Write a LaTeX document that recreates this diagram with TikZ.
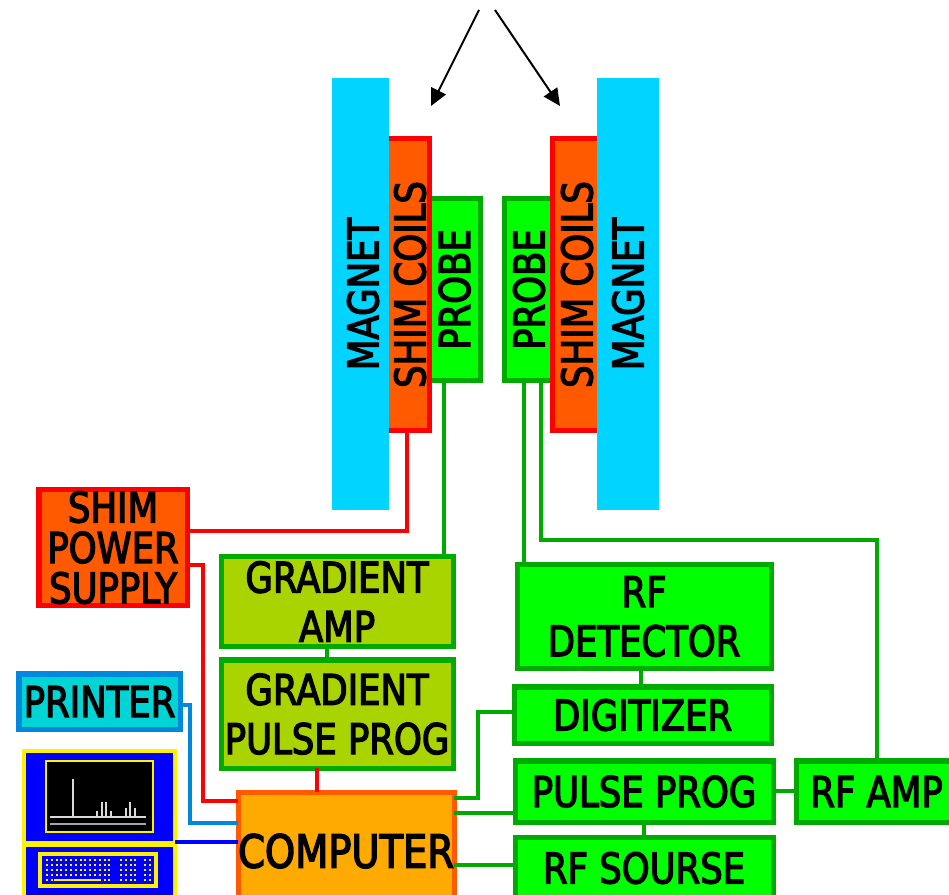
\documentclass[tikz,border=0pt]{standalone}
\usepackage{fontspec}
\usetikzlibrary{arrows.meta}
\newfontfamily\boxfont[FakeStretch=0.84,FakeBold=3]{DejaVu Sans}
\newcommand{\nudged}[2]{\raisebox{-#1}[8.75pt][0pt]{#2}}
\definecolor{magcyan}{HTML}{00D4FF}
\definecolor{coilorange}{HTML}{FF5A00}
\definecolor{rfgreen}{HTML}{00FF00}
\definecolor{rfedge}{HTML}{00AA00}
\definecolor{gradolive}{HTML}{AAD400}
\definecolor{comporange}{HTML}{FFAA00}
\definecolor{printcyan}{HTML}{00D4D4}
\definecolor{printedge}{HTML}{0088DD}
\tikzset{
  labelbox/.style={draw, line width=.05cm, inner sep=0pt, outer sep=0pt, align=center, text=black,
    font=\boxfont\fontsize{12}{14}\selectfont},
  magnetbox/.style={labelbox, draw=none, fill=magcyan, rotate=90},
  coilbox/.style={labelbox, draw=red, fill=coilorange},
  rfbox/.style={labelbox, draw=rfedge, fill=rfgreen},
  gradbox/.style={labelbox, draw=rfedge, fill=gradolive},
  wire/.style={line width=.04cm},
  termbox/.style={draw=yellow, line width=.04cm, fill=blue, inner sep=0pt, outer sep=0pt},
  beam/.style={-{Triangle[length=.17cm,width=.16cm]}, line width=.02cm}
}
\begin{document}
\begin{tikzpicture}[x=.01cm,y=-.01cm]
  \useasboundingbox (0,0) rectangle (949,895);
  \clip (0,0) rectangle (949,895);
  % probes go under the coils, coils under the magnet
  \node[rfbox, rotate=90, minimum width=1.81cm, minimum height=.55cm] (probel) at (452.5,289.5) {\nudged{.02cm}{PROBE}};
  \node[rfbox, rotate=90, minimum width=1.81cm, minimum height=.48cm] (prober) at (529,289.5) {PROBE};
  \node[coilbox, rotate=90, minimum width=2.91cm, minimum height=.44cm] (coill) at (407,284.5) {\nudged{.03cm}{SHIM COILS}};
  \node[coilbox, rotate=90, minimum width=2.91cm, minimum height=.48cm] (coilr) at (577,284.5) {SHIM COILS};
  \node[magnetbox, minimum width=4.32cm, minimum height=.57cm] (magnetl) at (360.5,294) {\nudged{.025cm}{MAGNET}};
  \node[magnetbox, minimum width=4.32cm, minimum height=.62cm] (magnetr) at (628,294) {MAGNET};
  % arrows from the top
  \coordinate (topl) at (479,10);
  \coordinate (topr) at (495,10);
  \coordinate (tipl) at (431,106);
  \coordinate (tipr) at (560,106);
  \draw[beam] (topl) -- (tipl);
  \draw[beam] (topr) -- (tipr);
  % boxes
  \node[coilbox, anchor=north west, minimum width=1.48cm, minimum height=1.15cm,
    font=\boxfont\fontsize{12}{11.5}\selectfont] (shimps) at (39,490) {SHIM\\POWER\\SUPPLY};
  \node[gradbox, anchor=north west, minimum width=2.32cm, minimum height=.89cm] (gradamp) at (221,557) {GRADIENT\\AMP};
  \node[gradbox, anchor=north west, minimum width=2.32cm, minimum height=1.08cm] (gradprog) at (221,660) {GRADIENT\\PULSE PROG};
  \node[rfbox, anchor=north west, minimum width=2.54cm, minimum height=1.03cm] (detector) at (517,565) {RF\\DETECTOR};
  \node[rfbox, anchor=north west, minimum width=2.57cm, minimum height=.56cm] (digitizer) at (514,687) {DIGITIZER};
  \node[rfbox, anchor=north west, minimum width=2.58cm, minimum height=.61cm] (pulseprog) at (515,761) {PULSE PROG};
  \node[rfbox, anchor=north west, minimum width=1.61cm, minimum height=.61cm] (rfamp) at (796,761) {RF AMP};
  \node[rfbox, anchor=north west, minimum width=2.58cm, minimum height=.62cm] (rfsource) at (515,837) {RF SOURSE};
  \node[labelbox, draw=coilorange, fill=comporange, anchor=north west, minimum width=2.16cm, minimum height=1.18cm,
    font=\boxfont\fontsize{13}{14}\selectfont] (computer) at (238,792) {COMPUTER};
  \node[labelbox, draw=printedge, fill=printcyan, anchor=north west, minimum width=1.61cm, minimum height=.55cm] (printer) at (19,674) {PRINTER};
  % connectors
  \draw[wire, red] (coill.west) |- (shimps.east |- 0,531);
  \draw[wire, red] (shimps.east |- 0,565) -| (203,801) -- (computer.west |- 0,801);
  \draw[wire, red] (gradprog.south -| 317,0) -- (computer.north -| 317,0);
  \draw[wire, printedge] (printer.east |- 0,705) -| (190,823) -- (computer.west |- 0,823);
  \draw[wire, rfedge] (probel.west -| 444,0) -- (gradamp.north -| 444,0);
  \draw[wire, rfedge] (gradamp.south -| 327,0) -- (gradprog.north -| 327,0);
  \draw[wire, rfedge] (prober.west -| 524,0) -- (detector.north -| 524,0);
  \draw[wire, rfedge] (prober.west -| 541,0) |- (877,540) -- (rfamp.north -| 877,0);
  \draw[wire, rfedge] (detector.south -| 641,0) -- (digitizer.north -| 641,0);
  \draw[wire, rfedge] (digitizer.west |- 0,712) -| (478,798) -- (computer.east |- 0,798);
  \draw[wire, rfedge] (computer.east |- 0,813) -- (pulseprog.west |- 0,813);
  \draw[wire, rfedge] (pulseprog.east |- 0,791) -- (rfamp.west |- 0,791);
  \draw[wire, rfedge] (pulseprog.south -| 644,0) -- (rfsource.north -| 644,0);
  \draw[wire, rfedge] (computer.east |- 0,865) -- (rfsource.west |- 0,865);
  % terminal with spectrum
  \node[termbox, anchor=north west, minimum width=1.51cm, minimum height=.92cm] (monitor) at (24,751) {};
  \node[termbox, anchor=north west, minimum width=1.51cm, minimum height=.6cm] (keyboard) at (24,845) {};
  \draw[wire, blue] (monitor.east |- 0,842) -- (computer.west |- 0,842);
  \draw[yellow, line width=.02cm, fill=black] (46,761) rectangle (153,832);
  \draw[white!85!black, line width=.02cm] (50,817) -- (146,817);
  \draw[white!65!black, line width=.025cm] (50,824) -- (146,824);
  \foreach \x/\top in {73/779,97/811,102/802,106/802,111/811,126/808,130/802,135/808} {
    \draw[white!85!black, line width=.02cm] (\x,817) -- (\x,\top);
  }
  \draw[yellow, line width=.04cm] (40,854) rectangle (156,886);
  \foreach \y in {860,865,870,875,880} {
    \foreach \i in {0,...,13} {
      \fill[yellow] ({47+\i*4.8-1},\y-1) rectangle ({47+\i*4.8+1},\y+1);
    }
    \foreach \i in {0,...,3} {
      \fill[yellow] ({121+\i*4.8-1},\y-1) rectangle ({121+\i*4.8+1},\y+1);
    }
    \foreach \i in {0,1} {
      \fill[yellow] ({145+\i*4.8-1},\y-1) rectangle ({145+\i*4.8+1},\y+1);
    }
  }
  \fill[yellow] (54,879) rectangle (99,881);
\end{tikzpicture}
\end{document}
